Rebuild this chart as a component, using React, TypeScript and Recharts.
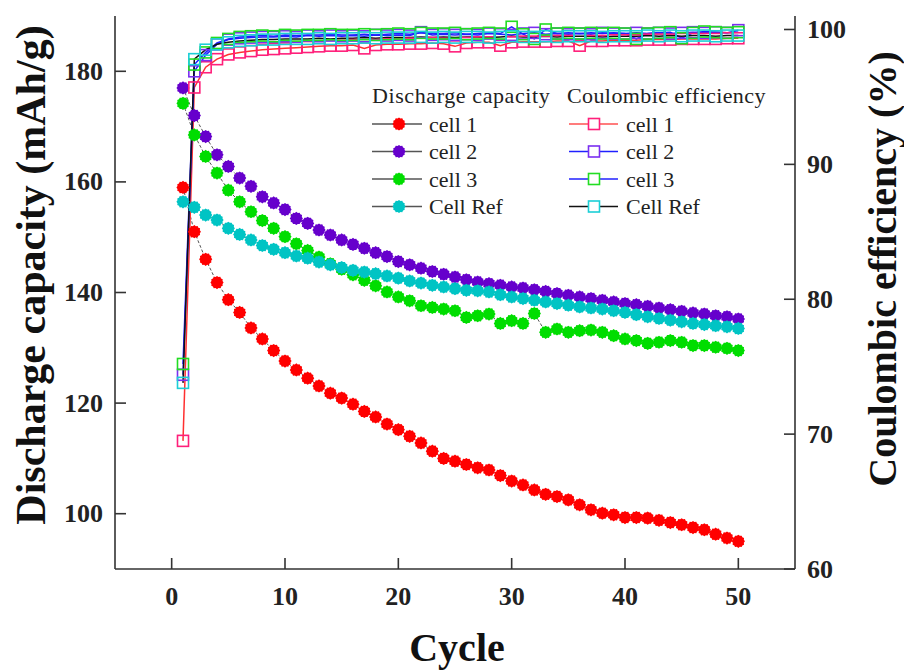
import { ComposedChart, Line, XAxis, YAxis, Legend, Label } from "recharts";

const FONT = "'Liberation Serif', 'Times New Roman', serif";

const cycles = [
  1, 2, 3, 4, 5, 6, 7, 8, 9, 10, 11, 12, 13, 14, 15, 16, 17, 18, 19, 20, 21, 22, 23, 24, 25,
  26, 27, 28, 29, 30, 31, 32, 33, 34, 35, 36, 37, 38, 39, 40, 41, 42, 43, 44, 45, 46, 47, 48, 49, 50,
];

// discharge capacity (mAh/g)
const cell1Capacity = [
  159, 151, 146, 141.8, 138.7, 136.4, 133.6, 131.6, 129.5, 127.6, 126, 124.5, 123.1, 121.8, 120.9,
  119.8, 118.5, 117.5, 116.2, 115.2, 114, 112.8, 111.3, 110, 109.5, 108.9, 108.3, 107.9, 106.9, 105.9,
  105.2, 104.3, 103.5, 103.1, 102.5, 101.6, 100.7, 100.1, 99.8, 99.3, 99.3, 99.2, 98.8, 98.4, 98,
  97.5, 97.1, 96.3, 95.6, 95,
];
const cell2Capacity = [
  177, 172, 168.2, 164.9, 162.8, 160.7, 159.2, 157.3, 156.2, 155, 153.4, 152.5, 151.3, 150.4, 149.5,
  148.7, 148, 147.2, 146.5, 145.6, 145, 144.4, 143.8, 143.3, 142.8, 142.3, 141.9, 141.6, 141.3, 141,
  140.8, 140.5, 140.2, 139.8, 139.5, 139.2, 138.9, 138.6, 138.3, 138, 137.8, 137.5, 137.2, 136.9,
  136.6, 136.3, 136.1, 135.8, 135.6, 135.2,
];
const cell3Capacity = [
  174.2, 168.5, 164.6, 161.6, 158.5, 156.4, 154.6, 153, 151.6, 150.1, 148.8, 147.6, 146.4, 145.2,
  144.2, 143.2, 142.2, 141.2, 140.1, 139.2, 138.5, 137.6, 137.3, 137, 136.7, 135.5, 135.8, 136.1,
  134.4, 134.9, 134.4, 136.2, 132.8, 133.4, 132.8, 133.1, 133.2, 132.8, 132.2, 131.6, 131.3, 130.8,
  131, 131.3, 131, 130.4, 130.4, 130.1, 129.9, 129.5,
];
const refCapacity = [
  156.4, 155.4, 154, 153.1, 151.6, 150.5, 149.5, 148.5, 147.8, 147.2, 146.6, 146.2, 145.5, 145,
  144.5, 144, 143.7, 143.4, 143, 142.6, 142.1, 141.7, 141.3, 141, 140.7, 140.4, 140.3, 140.1, 139.6,
  139.2, 138.9, 138.6, 138.3, 138, 137.7, 137.4, 137.2, 137, 136.7, 136.4, 136, 135.6, 135.3, 135,
  134.7, 134.4, 134.2, 134, 133.8, 133.5,
];

// coulombic efficiency (%)
const cell1CE = [
  69.5, 95.7, 97.2, 97.8, 98.15, 98.3, 98.4, 98.5, 98.55, 98.6, 98.65, 98.7, 98.75, 98.8, 98.8, 98.85,
  98.6, 98.85, 98.9, 98.9, 98.95, 98.95, 99, 98.95, 98.75, 99, 99.05, 99.05, 98.8, 99.05, 99.1, 99.1,
  99.1, 99.15, 99.15, 98.8, 99.15, 99.15, 99.2, 99.2, 99.2, 99.25, 99.25, 99.25, 99.3, 99.3, 99.3,
  99.3, 99.35, 99.35,
];
const cell2CE = [
  74.4, 96.9, 98.1, 98.9, 99.25, 99.35, 99.4, 99.45, 99.45, 99.5, 99.45, 99.55, 99.5, 99.55, 99.5,
  99.55, 99.5, 99.6, 99.55, 99.6, 99.55, 99.8, 99.6, 99.65, 99.6, 99.65, 99.6, 99.7, 99.65, 99.6,
  99.7, 99.75, 99.65, 99.7, 99.65, 99.7, 99.65, 99.75, 99.7, 99.7, 99.75, 99.7, 99.75, 99.7, 99.75,
  99.8, 99.75, 99.8, 99.75, 99.95,
];
const cell3CE = [
  75.2, 97.4, 98.3, 99, 99.3, 99.45, 99.5, 99.55, 99.5, 99.6, 99.55, 99.6, 99.6, 99.65, 99.6, 99.6,
  99.65, 99.6, 99.65, 99.7, 99.65, 99.75, 99.7, 99.7, 99.75, 99.65, 99.7, 99.75, 99.7, 100.2, 99.65,
  99.3, 100, 99.7, 99.75, 99.7, 99.75, 99.7, 99.75, 99.7, 99.3, 99.7, 99.75, 99.8, 99.35, 99.75,
  99.85, 99.8, 99.75, 99.8,
];
const refCE = [
  73.8, 97.8, 98.5, 98.9, 99.05, 99.15, 99.2, 99.25, 99.25, 99.3, 99.3, 99.3, 99.35, 99.3, 99.35,
  99.35, 99.4, 99.35, 99.4, 99.4, 99.4, 99.45, 99.4, 99.45, 99.4, 99.45, 99.45, 99.4, 99.45, 99.5,
  99.45, 99.45, 99.5, 99.45, 99.5, 99.5, 99.5, 99.45, 99.5, 99.5, 99.5, 99.55, 99.5, 99.55, 99.5,
  99.55, 99.55, 99.5, 99.55, 99.55,
];

const cycleTicks = [0, 10, 20, 30, 40, 50];
const capacityTicks = [100, 120, 140, 160, 180];
const ceTicks = [60, 70, 80, 90, 100];

const data = cycles.map((c, i) => ({
  cycle: c,
  cap1: cell1Capacity[i],
  cap2: cell2Capacity[i],
  cap3: cell3Capacity[i],
  capRef: refCapacity[i],
  ce1: cell1CE[i],
  ce2: cell2CE[i],
  ce3: cell3CE[i],
  ceRef: refCE[i],
}));

const AXIS = "#333";

function bumpyPoints(cx: number, cy: number, r: number) {
  const pts: string[] = [];
  for (let k = 0; k < 24; k++) {
    const a = (Math.PI * 2 * k) / 24;
    const rr = k % 2 === 0 ? r : r - 0.9;
    pts.push(`${cx + rr * Math.cos(a)},${cy + rr * Math.sin(a)}`);
  }
  return pts.join(" ");
}

const filledDot = (color: string) => (props: any) => {
  const { cx, cy, index } = props;
  if (cx == null || cy == null) return <g key={`f${index}`} />;
  return <polygon key={`f${index}`} points={bumpyPoints(cx, cy, 6.6)} fill={color} />;
};

const squareDot = (color: string) => (props: any) => {
  const { cx, cy, index } = props;
  if (cx == null || cy == null) return <g key={`s${index}`} />;
  return (
    <rect
      key={`s${index}`}
      x={cx - 5.5}
      y={cy - 5.5}
      width={11}
      height={11}
      fill="none"
      stroke={color}
      strokeWidth={1.6}
    />
  );
};

const tickText = {
  fontFamily: FONT,
  fontWeight: 700,
  fontSize: 26,
  fill: "#222",
};

const LeftTick = (props: any) => {
  const { x, y, payload } = props;
  return (
    <g>
      <line x1={x} x2={x + 11} y1={y} y2={y} stroke={AXIS} strokeWidth={1.6} />
      <text x={x - 12} y={y} textAnchor="end" dominantBaseline="central" {...tickText}>
        {payload.value}
      </text>
    </g>
  );
};

const RightTick = (props: any) => {
  const { x, y, payload } = props;
  return (
    <g>
      <line x1={x} x2={x - 11} y1={y} y2={y} stroke={AXIS} strokeWidth={1.6} />
      <text x={x + 12} y={y} textAnchor="start" dominantBaseline="central" {...tickText}>
        {payload.value}
      </text>
    </g>
  );
};

const BottomTick = (props: any) => {
  const { x, y, payload } = props;
  return (
    <g>
      <line x1={x} x2={x} y1={y} y2={y - 11} stroke={AXIS} strokeWidth={1.6} />
      <text x={x} y={y + 27} textAnchor="middle" dominantBaseline="central" {...tickText}>
        {payload.value}
      </text>
    </g>
  );
};

const titleText = {
  fontFamily: FONT,
  fontWeight: 700,
  fontSize: 40,
  fill: "#111",
};

const legendText = {
  fontFamily: FONT,
  fontSize: 22,
  fill: "#222",
};

const capLegend = [
  { name: "cell 1", color: "#ff0000" },
  { name: "cell 2", color: "#6600cc" },
  { name: "cell 3", color: "#00dd00" },
  { name: "Cell Ref", color: "#00c4c4" },
];
const ceLegend = [
  { name: "cell 1", color: "#ff1f7a", line: "#ff5050" },
  { name: "cell 2", color: "#7b2ff0", line: "#2020ff" },
  { name: "cell 3", color: "#22dd22", line: "#2020ff" },
  { name: "Cell Ref", color: "#1ccfd6", line: "#111111" },
];

function renderLegend() {
  const rows = [44, 71.5, 99, 126.5];
  return (
    <svg width={420} height={145}>
      <text x={12} y={15} dominantBaseline="central" letterSpacing={0.6} {...legendText}>
        Discharge capacity
      </text>
      <text x={207} y={15} dominantBaseline="central" letterSpacing={0.4} {...legendText}>
        Coulombic efficiency
      </text>
      {capLegend.map((e, i) => (
        <g key={`c${i}`}>
          <line x1={12} x2={62} y1={rows[i]} y2={rows[i]} stroke="#555" strokeWidth={1.5} />
          <polygon points={bumpyPoints(39, rows[i], 6.6)} fill={e.color} />
          <text x={69} y={rows[i]} dominantBaseline="central" {...legendText}>
            {e.name}
          </text>
        </g>
      ))}
      {ceLegend.map((e, i) => (
        <g key={`e${i}`}>
          <line x1={209} x2={258} y1={rows[i]} y2={rows[i]} stroke={e.line} strokeWidth={1.5} />
          <rect x={228.5} y={rows[i] - 5.5} width={11} height={11} fill="#fff" stroke={e.color} strokeWidth={1.6} />
          <text x={266} y={rows[i]} dominantBaseline="central" {...legendText}>
            {e.name}
          </text>
        </g>
      ))}
    </svg>
  );
}

export default function App() {
  return (
    <div style={{ position: "absolute", left: 0, top: 0, background: "#fff" }}>
      <ComposedChart width={904} height={671} data={data} margin={{ top: 16, right: 0, bottom: 0, left: 0 }}>
        <XAxis
          dataKey="cycle"
          type="number"
          domain={[-5, 55]}
          ticks={cycleTicks}
          height={102}
          tickSize={0}
          tickMargin={0}
          tickLine={false}
          tick={<BottomTick />}
          axisLine={{ stroke: AXIS, strokeWidth: 1.6 }}
          interval={0}
        >
          <Label
            content={() => (
              <text x={457} y={661} textAnchor="middle" {...titleText}>
                Cycle
              </text>
            )}
          />
        </XAxis>
        <XAxis
          xAxisId="top"
          orientation="top"
          dataKey="cycle"
          type="number"
          domain={[-5, 55]}
          height={0}
          tick={false}
          tickLine={false}
          axisLine={{ stroke: AXIS, strokeWidth: 1.6 }}
        />
        <YAxis
          yAxisId="cap"
          orientation="left"
          type="number"
          domain={[90, 190]}
          ticks={capacityTicks}
          width={115}
          tickSize={0}
          tickMargin={0}
          tickLine={false}
          tick={<LeftTick />}
          axisLine={{ stroke: AXIS, strokeWidth: 1.6 }}
          interval={0}
        >
          <Label
            content={() => (
              <text
                x={45}
                y={275}
                transform="rotate(-90 45 275)"
                textAnchor="middle"
                {...titleText}
                fontSize={42}
              >
                Discharge capacity (mAh/g)
              </text>
            )}
          />
        </YAxis>
        <YAxis
          yAxisId="ce"
          orientation="right"
          type="number"
          domain={[60, 101]}
          ticks={ceTicks}
          width={109}
          tickSize={0}
          tickMargin={0}
          tickLine={false}
          tick={<RightTick />}
          axisLine={{ stroke: AXIS, strokeWidth: 1.6 }}
          interval={0}
          allowDataOverflow
        >
          <Label
            content={() => (
              <text x={896} y={269} transform="rotate(-90 896 269)" textAnchor="middle" {...titleText}>
                Coulombic efficiency (%)
              </text>
            )}
          />
        </YAxis>

        <Line yAxisId="cap" dataKey="cap1" stroke="#555" strokeWidth={1} strokeDasharray="3 2" dot={filledDot("#ff0000")} isAnimationActive={false} />
        <Line yAxisId="cap" dataKey="cap2" stroke="#555" strokeWidth={1} strokeDasharray="3 2" dot={filledDot("#6600cc")} isAnimationActive={false} />
        <Line yAxisId="cap" dataKey="cap3" stroke="#555" strokeWidth={1} strokeDasharray="3 2" dot={filledDot("#00dd00")} isAnimationActive={false} />
        <Line yAxisId="cap" dataKey="capRef" stroke="#555" strokeWidth={1} strokeDasharray="3 2" dot={filledDot("#00c4c4")} isAnimationActive={false} />

        <Line yAxisId="ce" dataKey="ce1" stroke="#ff3030" strokeWidth={1.5} dot={squareDot("#ff1f7a")} isAnimationActive={false} />
        <Line yAxisId="ce" dataKey="ce2" stroke="#2020ff" strokeWidth={1.5} dot={squareDot("#7b2ff0")} isAnimationActive={false} />
        <Line yAxisId="ce" dataKey="ce3" stroke="#2020ff" strokeWidth={1.5} dot={squareDot("#22dd22")} isAnimationActive={false} />
        <Line yAxisId="ce" dataKey="ceRef" stroke="#111" strokeWidth={1.5} dot={squareDot("#1ccfd6")} isAnimationActive={false} />

        <Legend
          layout="horizontal"
          verticalAlign="middle"
          align="center"
          content={renderLegend}
          wrapperStyle={{ position: "absolute", left: 360, top: 80, width: 420, height: 145 }}
        />
      </ComposedChart>
    </div>
  );
}
